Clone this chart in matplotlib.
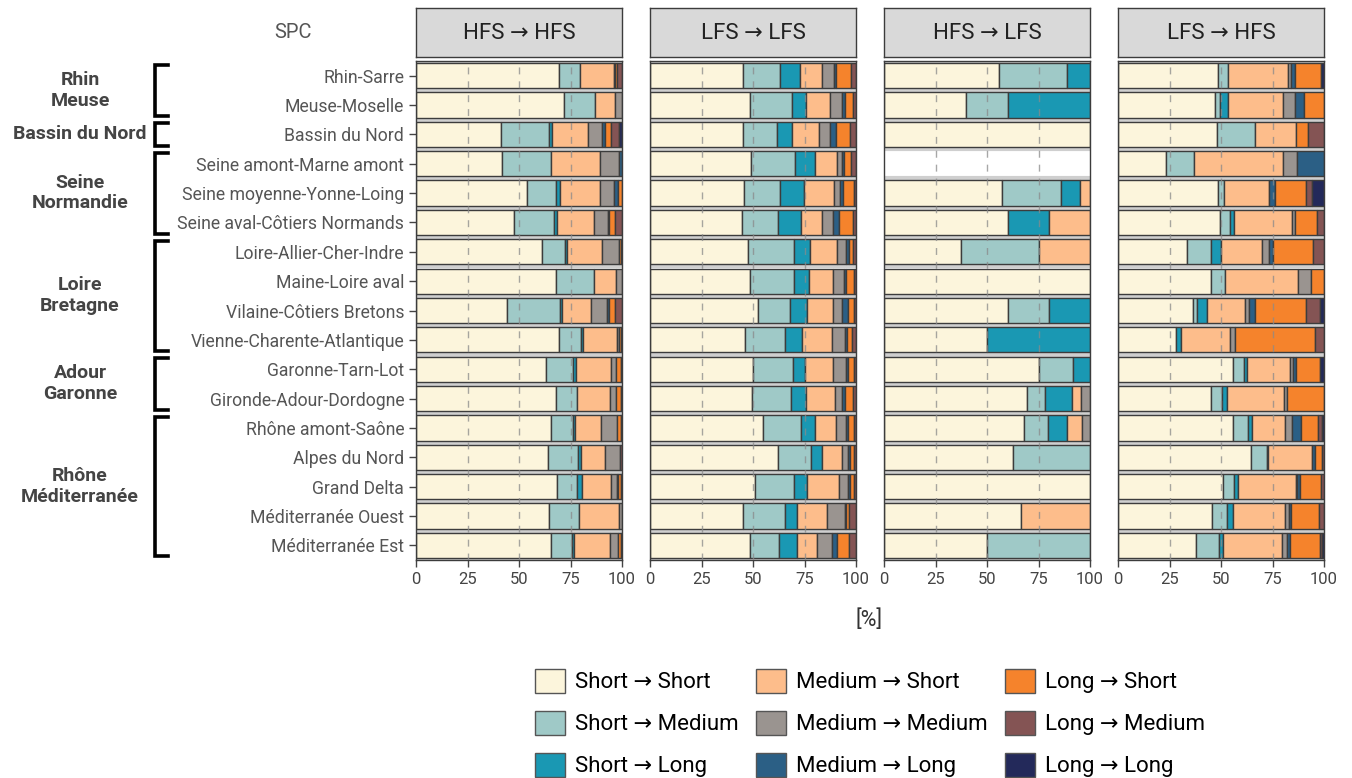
import matplotlib.pyplot as plt
import matplotlib.patches as mpatches
from matplotlib.transforms import blended_transform_factory
import numpy as np

plt.rcParams['font.family'] = ['Roboto', 'DejaVu Sans']

# Stations (SPC) and basins
spc = ["Rhin-Sarre", "Meuse-Moselle", "Bassin du Nord", "Seine amont-Marne amont",
       "Seine moyenne-Yonne-Loing", "Seine aval-Côtiers Normands", "Loire-Allier-Cher-Indre",
       "Maine-Loire aval", "Vilaine-Côtiers Bretons", "Vienne-Charente-Atlantique",
       "Garonne-Tarn-Lot", "Gironde-Adour-Dordogne", "Rhône amont-Saône", "Alpes du Nord",
       "Grand Delta", "Méditerranée Ouest", "Méditerranée Est"]
basins = [("Rhin\nMeuse", 0, 1), ("Bassin du Nord", 2, 2), ("Seine\nNormandie", 3, 5),
          ("Loire\nBretagne", 6, 9), ("Adour\nGaronne", 10, 11), ("Rhône\nMéditerranée", 12, 16)]

transitions = ["Short → Short", "Short → Medium", "Short → Long",
               "Medium → Short", "Medium → Medium", "Medium → Long",
               "Long → Short", "Long → Medium", "Long → Long"]
colors = ["#FCF5DC", "#9FC9C7", "#1A98B3", "#FDBD8B", "#9A9490", "#2B5F85",
          "#F5832C", "#845454", "#23295A"]

panels = ["HFS → HFS", "LFS → LFS", "HFS → LFS", "LFS → HFS"]

# shares in %, one row per SPC, columns in the order of `transitions`
hfs_hfs = [
    [69.4, 10.0, 0.0, 16.6, 0.6, 0.0, 1.0, 2.4, 0.0],
    [71.8, 15.3, 0.0, 9.7, 3.2, 0.0, 0.0, 0.0, 0.0],
    [41.4, 23.2, 1.6, 17.4, 6.6, 1.4, 3.2, 3.6, 1.6],
    [41.9, 23.6, 0.0, 23.7, 9.2, 1.6, 0.0, 0.0, 0.0],
    [53.9, 14.2, 1.6, 19.5, 7.1, 1.8, 1.9, 0.0, 0.0],
    [47.7, 19.3, 1.6, 18.0, 6.5, 0.8, 2.7, 3.4, 0.0],
    [61.2, 11.3, 0.6, 17.1, 8.2, 0.0, 1.0, 0.6, 0.0],
    [67.8, 18.8, 0.0, 10.5, 2.9, 0.0, 0.0, 0.0, 0.0],
    [44.4, 25.6, 1.0, 14.0, 7.6, 1.0, 3.2, 3.2, 0.0],
    [69.4, 10.8, 1.1, 16.1, 1.3, 0.0, 1.0, 0.3, 0.0],
    [63.3, 12.9, 1.6, 17.0, 2.3, 0.0, 2.3, 0.6, 0.0],
    [67.8, 10.3, 0.0, 16.1, 2.9, 0.0, 2.3, 0.6, 0.0],
    [65.4, 10.8, 1.0, 12.7, 7.7, 0.0, 1.8, 0.6, 0.0],
    [64.1, 14.5, 1.6, 11.4, 7.4, 0.0, 0.0, 1.0, 0.0],
    [68.6, 9.5, 2.4, 14.3, 2.6, 0.5, 1.6, 0.5, 0.0],
    [64.6, 14.5, 0.0, 19.3, 1.6, 0.0, 0.0, 0.0, 0.0],
    [65.7, 10.1, 1.1, 17.3, 3.7, 0.0, 1.5, 0.6, 0.0],
]
lfs_lfs = [
    [45.0, 17.9, 9.8, 11.0, 5.8, 0.6, 7.5, 2.4, 0.0],
    [48.7, 20.2, 6.6, 11.8, 6.1, 1.3, 4.0, 1.3, 0.0],
    [45.0, 16.6, 7.3, 12.9, 5.8, 2.6, 6.9, 2.9, 0.0],
    [49.2, 21.4, 9.4, 11.0, 2.4, 0.8, 3.5, 2.3, 0.0],
    [45.8, 17.4, 11.6, 14.4, 3.1, 1.6, 5.1, 1.0, 0.0],
    [44.5, 17.8, 10.8, 10.4, 5.5, 2.6, 6.9, 1.5, 0.0],
    [47.6, 22.1, 8.2, 12.7, 4.7, 1.1, 2.3, 1.3, 0.0],
    [48.4, 21.6, 7.4, 11.6, 5.2, 1.1, 3.9, 0.8, 0.0],
    [52.3, 15.9, 8.1, 12.7, 4.2, 2.8, 3.2, 0.8, 0.0],
    [46.1, 19.2, 8.4, 14.7, 6.4, 1.0, 2.4, 1.8, 0.0],
    [49.8, 19.4, 5.8, 14.0, 6.3, 1.0, 2.7, 1.0, 0.0],
    [49.5, 19.0, 7.1, 14.4, 3.4, 1.3, 3.8, 1.5, 0.0],
    [54.7, 18.4, 7.1, 10.3, 4.7, 1.0, 2.9, 0.9, 0.0],
    [62.3, 15.9, 5.2, 10.0, 2.9, 0.6, 2.1, 1.0, 0.0],
    [51.1, 18.9, 6.1, 15.8, 4.4, 1.0, 1.8, 0.9, 0.0],
    [45.2, 20.1, 6.0, 14.8, 8.6, 0.6, 1.3, 3.4, 0.0],
    [48.4, 14.2, 8.7, 9.8, 7.1, 2.8, 5.6, 3.4, 0.0],
]
hfs_lfs = [
    [55.6, 33.4, 11.0, 0.0, 0.0, 0.0, 0.0, 0.0, 0.0],
    [40.0, 20.0, 40.0, 0.0, 0.0, 0.0, 0.0, 0.0, 0.0],
    [100.0, 0.0, 0.0, 0.0, 0.0, 0.0, 0.0, 0.0, 0.0],
    [0.0, 0.0, 0.0, 0.0, 0.0, 0.0, 0.0, 0.0, 0.0],
    [57.1, 28.6, 9.5, 4.8, 0.0, 0.0, 0.0, 0.0, 0.0],
    [60.0, 0.0, 20.0, 20.0, 0.0, 0.0, 0.0, 0.0, 0.0],
    [37.5, 37.5, 0.0, 25.0, 0.0, 0.0, 0.0, 0.0, 0.0],
    [100.0, 0.0, 0.0, 0.0, 0.0, 0.0, 0.0, 0.0, 0.0],
    [60.0, 20.0, 20.0, 0.0, 0.0, 0.0, 0.0, 0.0, 0.0],
    [50.0, 0.0, 50.0, 0.0, 0.0, 0.0, 0.0, 0.0, 0.0],
    [75.0, 16.7, 8.3, 0.0, 0.0, 0.0, 0.0, 0.0, 0.0],
    [69.6, 8.7, 13.0, 4.3, 4.4, 0.0, 0.0, 0.0, 0.0],
    [68.0, 11.4, 9.3, 7.6, 3.7, 0.0, 0.0, 0.0, 0.0],
    [62.5, 37.5, 0.0, 0.0, 0.0, 0.0, 0.0, 0.0, 0.0],
    [100.0, 0.0, 0.0, 0.0, 0.0, 0.0, 0.0, 0.0, 0.0],
    [66.7, 0.0, 0.0, 33.3, 0.0, 0.0, 0.0, 0.0, 0.0],
    [50.0, 50.0, 0.0, 0.0, 0.0, 0.0, 0.0, 0.0, 0.0],
]
lfs_hfs = [
    [48.4, 4.8, 0.0, 29.4, 1.3, 1.9, 12.9, 0.0, 1.3],
    [46.9, 2.6, 3.7, 27.1, 5.5, 4.4, 9.8, 0.0, 0.0],
    [48.1, 18.2, 0.0, 20.0, 0.0, 0.0, 6.0, 7.7, 0.0],
    [23.2, 13.6, 0.0, 43.5, 6.6, 13.1, 0.0, 0.0, 0.0],
    [48.7, 2.9, 0.0, 21.5, 0.0, 2.9, 15.1, 3.1, 5.8],
    [49.5, 4.9, 1.9, 28.4, 1.4, 0.0, 10.7, 3.2, 0.0],
    [33.5, 11.8, 4.7, 20.0, 3.5, 1.7, 19.6, 5.2, 0.0],
    [45.2, 6.7, 0.0, 35.5, 6.5, 0.0, 6.1, 0.0, 0.0],
    [36.3, 2.2, 4.7, 18.4, 2.1, 2.8, 24.6, 6.8, 2.1],
    [28.2, 0.0, 2.4, 23.8, 2.4, 0.0, 39.0, 4.2, 0.0],
    [55.6, 5.7, 1.1, 21.0, 1.6, 1.3, 11.9, 0.0, 1.8],
    [45.0, 5.3, 2.4, 27.8, 1.3, 0.0, 18.2, 0.0, 0.0],
    [56.0, 7.1, 1.9, 16.1, 3.6, 4.0, 8.2, 2.3, 0.8],
    [64.8, 7.3, 0.8, 21.3, 0.0, 1.3, 3.7, 0.8, 0.0],
    [50.8, 5.3, 2.0, 28.2, 0.8, 1.1, 10.5, 1.3, 0.0],
    [45.6, 7.5, 2.9, 25.3, 1.6, 1.3, 13.2, 2.6, 0.0],
    [37.9, 11.3, 1.9, 28.3, 2.7, 1.3, 14.8, 0.6, 1.2],
]
panel_data = [hfs_hfs, lfs_lfs, hfs_lfs, lfs_hfs]

W, H = 1352, 778
fig = plt.figure(figsize=(W / 100, H / 100), dpi=100)

edge = "#3c3c3c"
lefts_px = [416, 650, 884, 1118]
ax_w = 206 / W
ax_bottom = 1 - 560 / H
ax_h = 499 / H
y = np.arange(len(spc))

axes = []
for k, (name, data) in enumerate(zip(panels, panel_data)):
    data = np.array(data)
    ax = fig.add_axes([lefts_px[k] / W, ax_bottom, ax_w, ax_h])
    axes.append(ax)

    # separators between rows
    for b in np.arange(-0.5, len(spc) + 0.5, 1):
        ax.axhline(b, color="#cfcfcf", lw=3, zorder=0)

    cum = np.zeros(len(spc))
    for j, col in enumerate(colors):
        w = data[:, j]
        keep = w > 0
        ax.barh(y[keep], w[keep], left=cum[keep], height=0.86, color=col,
                edgecolor=edge, linewidth=1, zorder=2)
        cum += w

    for g in [25, 50, 75]:
        ax.axvline(g, color="#8a8a8a", lw=1, ls=(0, (5, 5)), alpha=0.75, zorder=3)

    ax.set_xlim(0, 100)
    ax.set_ylim(len(spc) - 0.5, -0.5)
    ax.set_xticks([0, 25, 50, 75, 100])
    ax.tick_params(axis="x", labelsize=12, colors="#444444", length=5, width=1)
    for s in ax.spines.values():
        s.set_color(edge)
        s.set_linewidth(1)
    if k == 0:
        ax.set_yticks(y)
        ax.set_yticklabels(spc, fontsize=12.7, color="#555555")
        ax.tick_params(axis="y", length=5, width=1, color="#444444")
    else:
        ax.set_yticks([])

    # facet strip
    strip = fig.add_axes([lefts_px[k] / W, 1 - 57 / H, ax_w, 49 / H])
    strip.set_facecolor("#d9d9d9")
    strip.set_xticks([])
    strip.set_yticks([])
    for s in strip.spines.values():
        s.set_color(edge)
        s.set_linewidth(1)
    strip.text(0.5, 0.48, name, ha="center", va="center", fontsize=16, color="#222222",
               transform=strip.transAxes)

fig.text(293 / W, 1 - 33 / H, "SPC", ha="center", va="center", fontsize=14.5, color="#555555")
fig.text(869 / W, 1 - 620 / H, "[%]", ha="center", va="center", fontsize=15.5, color="#333333")

# basin brackets and labels
ax0 = axes[0]
tr = blended_transform_factory(fig.transFigure, ax0.transData)
xv, xt = 155 / W, 168 / W
for label, i0, i1 in basins:
    top, bot = i0 - 0.38, i1 + 0.38
    ax0.plot([xt, xv, xv, xt], [top, top, bot, bot], color="black", lw=2.6,
             transform=tr, clip_on=False, solid_joinstyle="miter")
    ax0.text(80 / W, (i0 + i1) / 2, label, transform=tr, ha="center", va="center",
             fontsize=14, fontweight="bold", color="#444444", linespacing=1.2)

handles = [mpatches.Patch(facecolor=c, edgecolor="#555555", linewidth=1) for c in colors]
fig.legend(handles, transitions, ncol=3, loc="center", bbox_to_anchor=(870 / W, 1 - 723 / H),
           frameon=False, fontsize=16, handlelength=1.35, handleheight=1.3,
           columnspacing=0.8, labelspacing=0.78, handletextpad=0.45)

fig.savefig("out.png", dpi=100)
